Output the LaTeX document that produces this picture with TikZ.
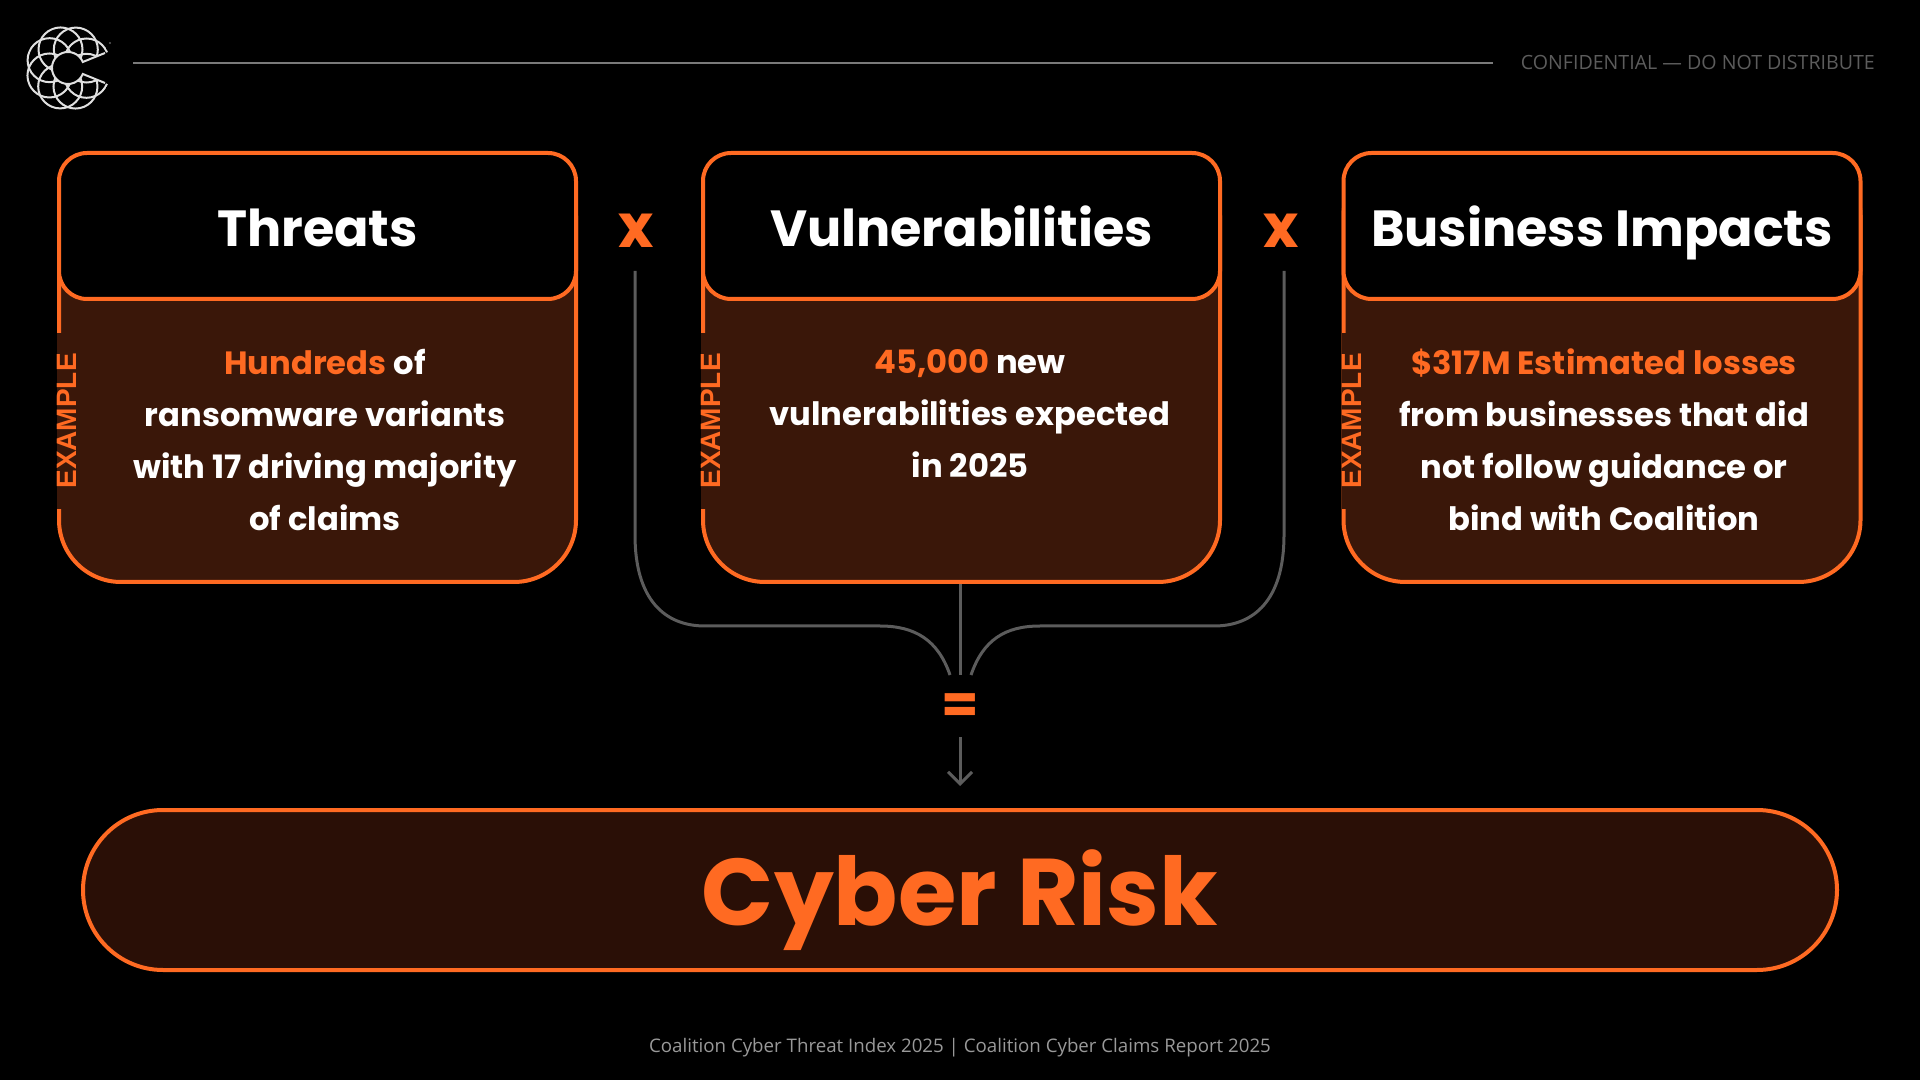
\documentclass[tikz,border=0pt]{standalone}
\usepackage{fontspec}
\setmainfont{Poppins}
\newfontfamily\notefont{Open Sans}
\newfontfamily\tagfont{Liberation Sans}
\usepackage{xcolor}
\usetikzlibrary{arrows.meta, positioning}
\definecolor{riskorange}{HTML}{FF6A22}
\definecolor{cardbrown}{HTML}{3A1709}
\definecolor{pillbrown}{HTML}{2A0F06}
\definecolor{wiregray}{HTML}{5C5C5C}
\tikzset{
  x=1pt, y=1pt,
  cardbox/.style   = {draw=riskorange, line width=4pt, fill=cardbrown, rounded corners=62pt,
                      minimum width=517pt, minimum height=428pt},
  cardhead/.style  = {draw=riskorange, line width=4pt, fill=black, rounded corners=28pt,
                      minimum width=517pt, minimum height=146pt, text=white,
                      text height=50pt, text depth=8pt,
                      font=\fontsize{50.8}{51}\selectfont\bfseries},
  cardtext/.style  = {text=white, align=center, inner sep=0pt,
                      font=\fontsize{32.2}{52}\selectfont\bfseries},
  tagtext/.style   = {text=riskorange, fill=cardbrown, rotate=90, inner xsep=20pt, inner ysep=0pt,
                      font=\fontsize{28}{28}\selectfont\tagfont\bfseries},
  timessign/.style = {text=riskorange, font=\fontsize{60}{60}\selectfont\bfseries, inner sep=0pt},
  wire/.style      = {draw=wiregray, line width=3pt},
  logoline/.style  = {draw=white!88!black, line width=2pt}
}
\newcommand{\hot}[1]{\textcolor{riskorange}{#1}}

\begin{document}
\begin{tikzpicture}
  \fill[black] (0,0) rectangle (1920,1080);
  \useasboundingbox (0,0) rectangle (1920,1080);

  % logo
  \coordinate (logomid) at (68,1012);
  \begin{scope}
    \clip (108,1028) arc (22:338:43) -- (82.8,1006) arc (-22:-338:16) -- cycle;
    \foreach \ang in {22,67,...,337} {
      \draw[logoline] ([shift={(\ang:20)}]logomid) circle (22);
    }
  \end{scope}
  \draw[logoline] (105,1027) -- (82.8,1018) arc (22:338:16) -- (105,997);
  \fill[wiregray] (110,1037) circle (1.2);

  % top line and note
  \node[text=wiregray, anchor=east, inner sep=0pt, font=\fontsize{19.6}{20}\selectfont\notefont] (confnote) at (1875,1018) {CONFIDENTIAL — DO NOT DISTRIBUTE};
  \coordinate (rulestart) at (133,1017);
  \coordinate (ruleend) at (1493,1017);
  \draw[draw=white!48!black, line width=2pt] (rulestart) -- (ruleend);

  % cards
  \node[cardbox] (threatsbox) at (317.5,712) {};
  \node[cardhead] (threatshead) at (317.5,854) {Threats};
  \node[tagtext, anchor=center] (threatstag) at (67,659) {EXAMPLE};
  \node[cardtext] (threatstext) at (325,640) {\hot{Hundreds} of\\ransomware variants\\with 17 driving majority\\of claims};

  \node[cardbox] (vulnbox) at (961.5,712) {};
  \node[cardhead] (vulnhead) at (961.5,854) {Vulnerabilities};
  \node[tagtext, anchor=center] (vulntag) at (711,659) {EXAMPLE};
  \node[cardtext] (vulntext) at (970,666) {\hot{45,000} new\\vulnerabilities expected\\in 2025};

  \node[cardbox] (impactbox) at (1602,712) {};
  \node[cardhead] (impacthead) at (1602,854) {Business Impacts};
  \node[tagtext, anchor=center] (impacttag) at (1352,659) {EXAMPLE};
  \node[cardtext] (impacttext) at (1604,640) {\hot{\$317M Estimated losses}\\from businesses that did\\not follow guidance or\\bind with Coalition};

  \node[timessign] (leftx) at (636,849) {x};
  \node[timessign] (rightx) at (1281,849) {x};

  % result
  \node[draw=riskorange, line width=4pt, fill=pillbrown, rounded corners=80pt, minimum width=1754pt, minimum height=160pt] (riskbox) at (960,190) {};
  \node[text=riskorange, font=\fontsize{94.7}{95}\selectfont\bfseries, inner sep=0pt] (risktext) at (960,180) {Cyber Risk};
  \node[text=riskorange, font=\fontsize{54}{54}\selectfont\bfseries, inner sep=0pt, minimum height=68pt] (equalsign) at (960,371) {=};

  % connectors
  \coordinate (leftdrop) at (635,809);
  \coordinate (rightdrop) at (1284,809);
  \coordinate (leftjoin) at (950,405);
  \coordinate (rightjoin) at (971,405);
  \draw[wire] (equalsign.north |- vulnbox.south) -- (equalsign.north);
  \draw[wire] (leftdrop) -- (635,545) .. controls (635,480) and (665,454) .. (705,454) -- (880,454) .. controls (915,454) and (938,440) .. (leftjoin);
  \draw[wire] (rightdrop) -- (1284,545) .. controls (1284,480) and (1254,454) .. (1214,454) -- (1040,454) .. controls (1005,454) and (983,440) .. (rightjoin);
  \draw[wire, -{Straight Barb[length=12pt,width=24pt]}, shorten >=22pt, shorten <=-6pt] (equalsign.south) -- (riskbox.north);

  % footer
  \node[text=white!60!black, inner sep=0pt, font=\fontsize{18.7}{19}\selectfont\notefont] (sourcenote) at (960,32) {Coalition Cyber Threat Index 2025 | Coalition Cyber Claims Report 2025};
\end{tikzpicture}
\end{document}
